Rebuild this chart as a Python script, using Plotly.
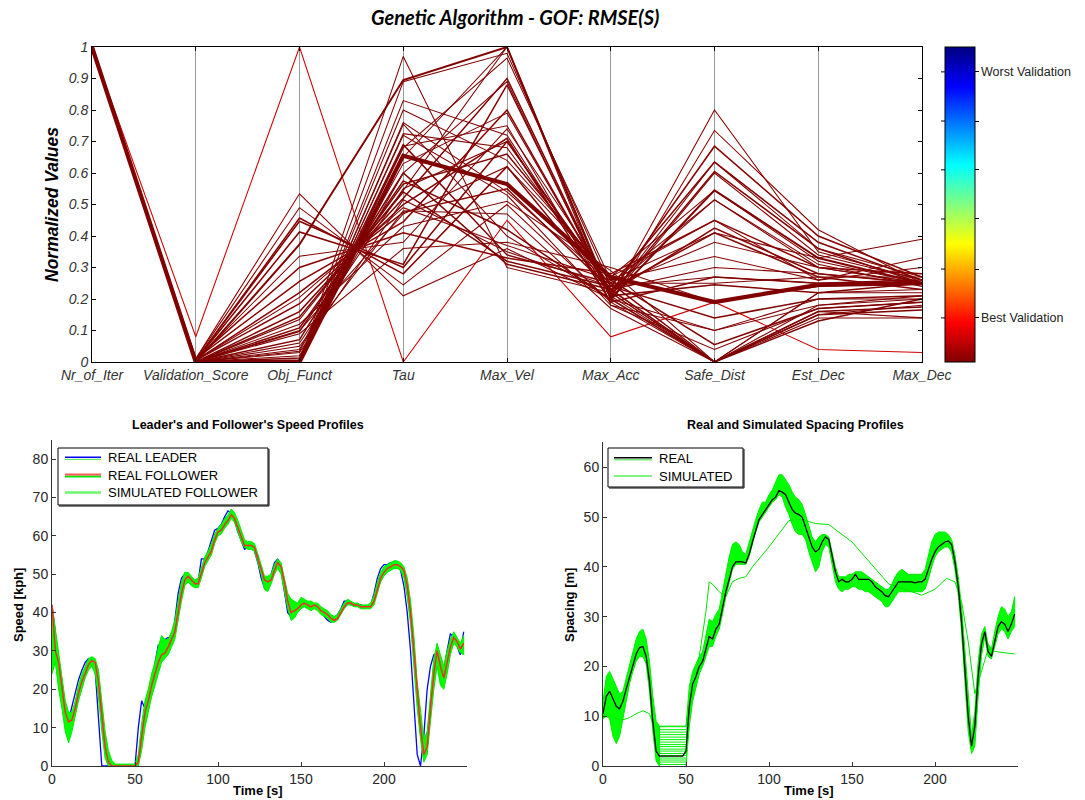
import plotly.graph_objects as go

# ---------------- DATA ----------------
param_names = ["Nr_of_Iter", "Validation_Score", "Obj_Funct", "Tau", "Max_Vel",
               "Max_Acc", "Safe_Dist", "Est_Dec", "Max_Dec"]

nr_of_iter = [1.0, 1.0, 1.0, 1.0, 1.0, 1.0, 1.0, 1.0, 1.0, 1.0,
              1.0, 1.0, 1.0, 1.0, 1.0, 1.0, 1.0, 1.0, 1.0, 1.0,
              1.0, 1.0, 1.0, 1.0, 1.0, 1.0, 1.0, 1.0, 1.0, 1.0,
              1.0, 1.0, 1.0, 1.0, 1.0, 1.0, 1.0, 1.0, 1.0, 1.0]
validation_score = [0.0, 0.08, 0.01, 0.01, 0.005, 0.005, 0.005, 0.0, 0.005, 0.01,
                    0.01, 0.005, 0.005, 0.005, 0.0, 0.0, 0.0, 0.0, 0.0, 0.0,
                    0.0, 0.0, 0.0, 0.0, 0.0, 0.0, 0.005, 0.0, 0.0, 0.0,
                    0.0, 0.0, 0.0, 0.0, 0.0, 0.0, 0.0, 0.0, 0.0, 0.0]
obj_funct = [0.0, 1.0, 0.534, 0.49, 0.457, 0.447, 0.413, 0.373, 0.336, 0.30,
             0.256, 0.22, 0.205, 0.185, 0.16, 0.143, 0.135, 0.108, 0.097, 0.071,
             0.034, 0.013, 0.007, 0.0, 0.0, 0.0, 0.0, 0.0, 0.0, 0.0,
             0.0, 0.0, 0.03, 0.05, 0.12, 0.09, 0.02, 0.06, 0.04, 0.1]
tau = [0.655, 0.0, 0.21, 0.245, 0.28, 0.3, 0.31, 0.895, 0.38, 0.41,
       0.445, 0.475, 0.49, 0.5, 0.52, 0.54, 0.545, 0.565, 0.575, 0.6,
       0.63, 0.69, 0.72, 0.97, 0.89, 0.83, 0.80, 0.76, 0.755, 0.725,
       0.685, 0.68, 0.515, 0.48, 0.43, 0.36, 0.6, 0.55, 0.65, 0.47]
max_vel = [0.565, 0.45, 0.36, 0.5, 0.62, 0.7, 0.88, 1.0, 0.74, 0.33,
           0.8, 0.55, 0.37, 0.71, 0.9, 0.32, 1.0, 0.66, 0.42, 0.31,
           0.79, 0.34, 0.53, 0.3, 0.98, 0.72, 0.64, 0.54, 0.4, 0.68,
           0.75, 0.965, 0.35, 0.47, 0.51, 0.38, 0.89, 0.7, 1.0, 0.62]
max_acc = [0.27, 0.08, 0.2, 0.19, 0.22, 0.24, 0.21, 0.2, 0.25, 0.28,
           0.22, 0.23, 0.26, 0.19, 0.21, 0.24, 0.18, 0.26, 0.2, 0.23,
           0.22, 0.25, 0.18, 0.22, 0.24, 0.21, 0.27, 0.25, 0.2, 0.23,
           0.19, 0.26, 0.24, 0.17, 0.29, 0.3, 0.2, 0.23, 0.21, 0.27]
safe_dist = [0.19, 0.19, 0.8, 0.735, 0.685, 0.635, 0.605, 0.545, 0.515, 0.45,
             0.425, 0.41, 0.335, 0.27, 0.245, 0.14, 0.1, 0.055, 0.0, 0.0,
             0.0, 0.0, 0.04, 0.0, 0.38, 0.0, 0.45, 0.25, 0.1, 0.3,
             0.0, 0.41, 0.27, 0.0, 0.0, 0.19, 0.6, 0.515, 0.635, 0.545]
est_dec = [0.245, 0.04, 0.35, 0.42, 0.4, 0.38, 0.36, 0.33, 0.31, 0.3,
           0.28, 0.27, 0.26, 0.25, 0.22, 0.2, 0.18, 0.17, 0.16, 0.15,
           0.14, 0.13, 0.17, 0.22, 0.3, 0.18, 0.26, 0.27, 0.2, 0.28,
           0.15, 0.33, 0.25, 0.22, 0.16, 0.24, 0.34, 0.3, 0.36, 0.32]
max_dec = [0.25, 0.03, 0.26, 0.25, 0.27, 0.26, 0.25, 0.25, 0.24, 0.28,
           0.25, 0.23, 0.3, 0.26, 0.25, 0.21, 0.2, 0.19, 0.175, 0.165,
           0.14, 0.2, 0.19, 0.23, 0.25, 0.21, 0.33, 0.27, 0.2, 0.25,
           0.18, 0.39, 0.25, 0.22, 0.14, 0.25, 0.26, 0.25, 0.27, 0.25]
# number of identical solutions drawn on top of each other
multiplicity = [8, 1, 1, 1, 2, 2, 2, 3, 1, 2,
                2, 2, 1, 2, 2, 2, 1, 2, 2, 2,
                1, 2, 1, 1, 1, 1, 1, 1, 1, 1,
                1, 1, 1, 1, 1, 1, 1, 1, 1, 1]

colorbar_labels = ["Best Validation", "", "", "", "", "Worst Validation"]
colorbar_tickvals = [0.14, 0.295, 0.454, 0.61, 0.765, 0.921]

speed_legend_labels = ["REAL LEADER", "REAL FOLLOWER", "SIMULATED FOLLOWER"]
spacing_legend_labels = ["REAL", "SIMULATED"]

time_s = list(range(0, 250, 2))
leader_speed = [42, 35, 22, 17, 12, 12, 15.5, 19, 22.5, 25,
                27, 28, 27.5, 25, 12, 0, 0, 0, 0, 0,
                0, 0, 0, 0, 0, 0, 10, 17, 15, 19,
                22, 27, 31.5, 31, 33, 33.5, 33, 38, 45, 49,
                50, 50, 48.5, 47.5, 48, 54, 54, 56, 59, 61.5,
                62, 63, 65, 66.5, 66, 64, 61, 58.5, 56.5, 57,
                57.5, 56, 53, 49, 46.5, 48, 50, 53, 54, 51,
                46, 40, 39, 41, 42, 43.5, 43, 42, 42, 41.5,
                41, 40, 39, 38, 37.5, 38, 39.5, 41, 43, 43,
                42, 42, 42, 42, 41.5, 41.5, 42, 45, 49, 51.5,
                52.5, 52.5, 53, 53, 52.5, 51, 47, 40, 30, 15,
                3, 0, 8, 20, 26, 29, 29.5, 25, 25, 30,
                34.5, 33.5, 31, 29, 35]
follower_speed = [42, 30, 27, 20, 14, 11.5, 12, 15, 19, 22,
                  24.5, 26.5, 27.5, 27, 22, 13, 5, 1, 0, 0,
                  0, 0, 0, 0, 0, 0, 1, 8, 14, 17,
                  21, 24, 27, 29, 29.5, 31, 33, 35, 40, 45,
                  48.5, 49.5, 48.5, 47.5, 47.5, 50, 53, 54.5, 56, 59,
                  61, 61.5, 63, 64, 65.5, 64.5, 62, 59.5, 57.5, 57.5,
                  57.5, 57, 54, 51, 48.5, 48, 48.5, 51, 53, 52,
                  48, 43, 40, 40.5, 41, 42, 42.5, 42, 41.5, 42,
                  41.5, 40.5, 40, 39.5, 38.5, 38, 38.5, 40, 41.5, 42.5,
                  42.5, 42, 42, 41.5, 41.5, 41.5, 41.5, 43, 46, 49,
                  50.5, 51.5, 52, 52.5, 52.5, 52, 51, 47, 40, 30,
                  18, 10, 3, 5, 15, 24, 30, 26, 23, 27,
                  31, 33.5, 32.5, 30.5, 32]
sim_speed_low = [24, 27, 20, 15, 9, 6, 9, 13, 17, 20,
                 23, 25, 26, 24, 18, 9, 2, 0, 0, 0,
                 0, 0, 0, 0, 0, 0, 0, 4, 10, 14,
                 18, 21, 24, 27, 28, 29, 31, 33, 38, 43,
                 47, 48, 47, 46.5, 46.5, 49, 52, 53.5, 55, 58,
                 60, 60.5, 62, 63, 64.5, 63.5, 61, 58.5, 57, 56.5,
                 56.5, 56, 53, 50, 46, 45.5, 47.5, 50, 51.5, 50,
                 46, 41, 38, 38.5, 40, 41, 41.5, 41, 40.5, 41,
                 40.5, 39.5, 39, 38.5, 37.5, 37.5, 38, 39.5, 41, 42,
                 42, 41.5, 41.5, 41, 41, 41, 41, 42, 45, 48,
                 49.5, 50.5, 51, 51.5, 51.5, 51, 49, 44, 37, 27,
                 15, 7, 1, 3, 12, 20, 26, 21, 20, 24,
                 29, 32, 31, 29.5, 29]
sim_speed_high = [42, 36, 30, 23, 17, 14, 14, 17, 21, 24,
                  26, 28, 28.5, 28, 25, 17, 9, 4, 1.5, 0.5,
                  0.5, 0.5, 0.5, 0.5, 0.5, 0.5, 3, 11, 17, 20,
                  24, 27, 31, 34, 33, 33, 35, 38, 43, 48,
                  50.5, 50.5, 49.5, 48.5, 49, 52, 54.5, 56, 58, 60.5,
                  62, 63, 64.5, 65.5, 67, 66, 64, 61.5, 59, 58.5,
                  58.5, 58, 55.5, 52.5, 49.5, 49.5, 50, 52.5, 54, 53,
                  49, 45, 43.5, 43, 42.5, 44, 43.5, 43, 43, 42.5,
                  42.5, 41.5, 41, 40.5, 39.5, 39, 39.5, 41, 42.5, 43.5,
                  43, 42.5, 42.5, 42, 42, 42, 42.5, 44.5, 48, 50.5,
                  52, 52.5, 53, 53.5, 53.5, 53, 52, 49, 43, 34,
                  22, 14, 7, 9, 19, 28, 32, 29, 26, 30,
                  33, 35, 33.5, 32, 34]

real_spacing = [10.5, 14, 15, 13.5, 12, 11.5, 13, 15.5, 18, 20.5,
                22.5, 23.8, 24, 22, 17, 9, 3, 2, 2, 2,
                2, 2, 2, 2, 2, 3, 12, 16.5, 18, 20,
                21, 23.5, 26, 25.5, 27.5, 28.5, 32, 35, 37.5, 40,
                41, 41, 41, 40.8, 42.5, 45, 47.5, 49.5, 50.5, 51.5,
                52.5, 53.5, 54, 55.3, 55, 54.5, 53, 51.5, 50.8, 50.5,
                50, 48, 46, 44, 43, 43.5, 45, 46, 45.5, 42,
                39, 37, 37.5, 37, 37, 37.5, 38.5, 37.5, 37.5, 37.5,
                37.5, 37, 36, 35.5, 35, 34.2, 34, 35, 36, 37,
                37, 37, 37, 37, 36.8, 37, 37, 37.5, 39.5, 41.5,
                43, 44, 44.5, 45, 45.2, 44.5, 41, 36, 29, 20,
                10, 4, 8, 18, 24.5, 27, 23, 22, 25, 28,
                29, 28.5, 27, 28.5, 30.5]
sim_spacing_low = [9.5, 10, 9.5, 6, 4.5, 6, 9, 13, 16.5, 19,
                   21, 22, 22, 20.5, 15, 7, 1, 0, None, None,
                   None, None, None, None, None, 0, 8, 13, 16, 18.5,
                   20, 22, 24, 24, 26, 27.5, 30.5, 34, 37, 39.5,
                   40.5, 40.5, 40.5, 40.5, 42, 44.5, 47, 49, 50, 51,
                   52, 53, 53.5, 54.5, 54, 52, 50.5, 48.5, 47, 46.5,
                   46.5, 45.5, 43, 41, 39, 40, 43, 44.5, 44, 40.5,
                   37, 35.5, 35, 35.5, 35.5, 36, 36, 35.5, 35.5, 35,
                   35, 34.5, 34, 33.5, 33, 32, 32, 33, 34, 35,
                   35, 35, 35, 35, 35, 35, 35, 35.5, 37.5, 40,
                   42, 43, 43.5, 44, 44, 43, 39.5, 34.5, 27, 17,
                   7, 2.5, 4, 14, 22, 26, 22, 21.5, 24, 26.5,
                   27.5, 27, 25.5, 27, 28]
sim_spacing_high = [13, 18, 19, 17.5, 16, 14.5, 15, 17.5, 20.5, 23,
                    25.5, 27, 27.5, 25.5, 21, 14, 9, 8, None, None,
                    None, None, None, None, None, 8, 16, 19, 20.5, 22,
                    23, 26, 29.5, 29, 30.5, 31.5, 35, 38.5, 42, 44.5,
                    45, 44.5, 43, 42.5, 45, 47.5, 49.5, 51.5, 53, 53,
                    54.5, 55.5, 57, 58.5, 58.5, 57.5, 56.5, 55, 54, 53.5,
                    52.5, 50.5, 48, 46, 45, 46, 46.5, 46.5, 46, 43,
                    40, 38, 38, 38, 38.5, 38.5, 39, 39, 39, 38.5,
                    38, 37.5, 37, 36.5, 36, 35.5, 35.5, 36.5, 38, 39,
                    39.5, 39, 38.5, 38.5, 38.5, 38.5, 38.5, 39.5, 42, 45,
                    46.5, 47, 47, 47, 46.5, 45.5, 42.5, 38, 32, 23,
                    13, 6, 11, 21, 26.5, 28, 24.5, 23.5, 27, 30,
                    32, 31.5, 30, 31, 34]
# standstill spacing of the individual simulated runs during the stop
stop_window_s = [34, 50]
sim_standstill = [0.3, 0.8, 1.2, 1.6, 2.1, 2.5, 3.0, 3.4, 3.9, 4.3,
                  4.8, 5.3, 5.8, 6.3, 6.8, 7.3, 7.9]
# one strongly deviating simulated run
outlier_t = [0, 4, 8, 12, 16, 20, 24, 28, 30, 32, 34, 50, 54, 58, 62, 64, 66, 70, 74, 78,
             82, 86, 90, 100, 112, 120, 128, 136, 150, 172, 192, 200, 207, 212, 216, 220,
             224, 228, 232, 236, 240, 248]
outlier_spacing = [10.5, 10, 9.5, 9.3, 9.7, 10.5, 11.1, 10.5, 8.5, 8, 8, 8, 14, 22, 31, 37,
                   36.5, 35, 34, 37, 37.7, 38, 40, 44, 49.3, 49.5, 48.7, 48.5, 45, 36.6,
                   34.3, 35.5, 37.7, 37, 33, 25, 14.5, 19, 23.5, 23, 22.8, 22.5]

# ---------------- LAYOUT HELPERS ----------------
W, H = 1085, 800


def fx(px):
    return px / W


def fy(py):
    return 1 - py / H


JET_R = [(0.0, (128, 0, 0)), (0.125, (255, 0, 0)), (0.375, (255, 255, 0)),
         (0.625, (0, 255, 255)), (0.875, (0, 0, 255)), (1.0, (0, 0, 128))]


def jet_color(v):
    v = max(0.0, min(1.0, v))
    for (p0, c0), (p1, c1) in zip(JET_R[:-1], JET_R[1:]):
        if p0 <= v <= p1:
            f = (v - p0) / (p1 - p0)
            c = [round(a + (b - a) * f) for a, b in zip(c0, c1)]
            return "rgb(%d,%d,%d)" % tuple(c)
    return "rgb(0,0,128)"


FONT = "Liberation Sans, Arial, sans-serif"
fig = go.Figure()

# ---------------- TOP: parallel coordinates ----------------
columns = [nr_of_iter, validation_score, obj_funct, tau, max_vel, max_acc,
           safe_dist, est_dec, max_dec]
axis_pos = list(range(1, len(param_names) + 1))
n_sol = len(validation_score)
for i in sorted(range(n_sol), key=lambda k: multiplicity[k]):
    fig.add_trace(go.Scatter(
        x=axis_pos, y=[col[i] for col in columns], mode="lines",
        line=dict(color=jet_color(validation_score[i]), width=0.6 + 0.45 * multiplicity[i]),
        xaxis="x", yaxis="y", showlegend=False, hoverinfo="skip"))

CB_TOP, CB_BOT, CB_L, CB_R = 47, 362, 945, 975
fig.add_trace(go.Scatter(
    x=[1, 1], y=[-5, -5], mode="markers", xaxis="x", yaxis="y", showlegend=False,
    hoverinfo="skip",
    marker=dict(size=1, color=[0, 1], cmin=0, cmax=1,
                colorscale=[[p, "rgb(%d,%d,%d)" % c] for p, c in JET_R],
                showscale=True,
                colorbar=dict(x=fx(CB_L), xanchor="left", xpad=0, ypad=0,
                              y=fy(CB_TOP), yanchor="top", len=(CB_BOT - CB_TOP) / H,
                              lenmode="fraction",
                              thickness=CB_R - CB_L, outlinecolor="black", outlinewidth=1,
                              tickvals=colorbar_tickvals,
                              ticktext=["" for _ in colorbar_labels],
                              ticks="outside", ticklen=4, tickcolor="black",
                              showticklabels=False))))

# ---------------- BOTTOM LEFT: speed ----------------
fig.add_trace(go.Scatter(x=time_s, y=leader_speed, mode="lines", name=speed_legend_labels[0],
                         line=dict(color="rgb(0,0,255)", width=1.3),
                         xaxis="x2", yaxis="y2", showlegend=False))
fig.add_trace(go.Scatter(x=time_s + time_s[::-1], y=sim_speed_high + sim_speed_low[::-1],
                         mode="lines", fill="toself", fillcolor="rgb(0,255,0)",
                         name=speed_legend_labels[2],
                         line=dict(color="rgb(0,235,0)", width=1),
                         xaxis="x2", yaxis="y2", showlegend=False, hoverinfo="skip"))
fig.add_trace(go.Scatter(x=time_s, y=follower_speed, mode="lines", name=speed_legend_labels[1],
                         line=dict(color="rgb(255,40,40)", width=1.5),
                         xaxis="x2", yaxis="y2", showlegend=False))


# ---------------- BOTTOM RIGHT: spacing ----------------
def band_polygon(t, lo, hi):
    xs, ys, seg = [], [], []
    for ti, l, h in list(zip(t, lo, hi)) + [(None, None, None)]:
        if l is None or h is None:
            if seg:
                xs += [s[0] for s in seg] + [s[0] for s in seg[::-1]] + [None]
                ys += [s[2] for s in seg] + [s[1] for s in seg[::-1]] + [None]
            seg = []
        else:
            seg.append((ti, l, h))
    return xs, ys


bx, by = band_polygon(time_s, sim_spacing_low, sim_spacing_high)
fig.add_trace(go.Scatter(x=bx, y=by, mode="lines", fill="toself", fillcolor="rgb(0,255,0)",
                         line=dict(color="rgb(0,235,0)", width=1),
                         xaxis="x3", yaxis="y3", showlegend=False, hoverinfo="skip"))
sx, sy = [], []
for v in sim_standstill:
    sx += [stop_window_s[0], stop_window_s[1], None]
    sy += [v, v, None]
fig.add_trace(go.Scatter(x=sx, y=sy, mode="lines", line=dict(color="rgb(0,240,0)", width=1),
                         xaxis="x3", yaxis="y3", showlegend=False, hoverinfo="skip"))
fig.add_trace(go.Scatter(x=outlier_t, y=outlier_spacing, mode="lines",
                         name=spacing_legend_labels[1],
                         line=dict(color="rgb(0,230,0)", width=1),
                         xaxis="x3", yaxis="y3", showlegend=False))
fig.add_trace(go.Scatter(x=time_s, y=real_spacing, mode="lines", name=spacing_legend_labels[0],
                         line=dict(color="black", width=1.3),
                         xaxis="x3", yaxis="y3", showlegend=False))

# ---------------- AXES ----------------
tick_font = dict(family=FONT, size=14, color="#262626")
top_tick_font = dict(family=FONT, size=14, color="#333", style="italic")

bottom_axis = dict(showline=True, linecolor="#333", linewidth=1, mirror=False,
                   ticks="inside", ticklen=4, tickcolor="#333", showgrid=False,
                   zeroline=False, tickfont=tick_font, automargin=False)

fig.update_layout(
    width=W, height=H, margin=dict(l=0, r=0, t=0, b=0, autoexpand=False),
    paper_bgcolor="white", plot_bgcolor="white", showlegend=False,
    xaxis=dict(domain=[fx(92), fx(922)], range=[1, 9], tickvals=axis_pos, ticktext=param_names,
               showline=True, mirror="ticks", linecolor="black", linewidth=1,
               ticks="inside", ticklen=4, tickcolor="black",
               showgrid=True, gridcolor="#9a9a9a", gridwidth=1, zeroline=False,
               tickfont=top_tick_font, anchor="y", automargin=False),
    yaxis=dict(domain=[fy(362), fy(47)], range=[0, 1], dtick=0.1, tick0=0,
               showline=True, mirror="ticks", linecolor="black", linewidth=1,
               ticks="inside", ticklen=4, tickcolor="black",
               showgrid=False, zeroline=False, tickfont=top_tick_font, anchor="x",
               automargin=False),
    xaxis2=dict(bottom_axis, domain=[fx(52), fx(467)], range=[0, 250],
                tickvals=[0, 50, 100, 150, 200], anchor="y2"),
    yaxis2=dict(bottom_axis, domain=[fy(766), fy(440)], range=[0, 85], dtick=10, anchor="x2"),
    xaxis3=dict(bottom_axis, domain=[fx(603), fx(1018)], range=[0, 250],
                tickvals=[0, 50, 100, 150, 200], anchor="y3"),
    yaxis3=dict(bottom_axis, domain=[fy(766), fy(442.4)], range=[0, 65], dtick=10, anchor="x3"),
)

ann = [
    dict(text="<b><i>Genetic Algorithm - GOF: RMSE(S)</i></b>", x=fx(515), y=fy(17),
         font=dict(family="Lato, Open Sans, sans-serif", size=20, color="black")),
    dict(text="<b><i>Normalized Values</i></b>", x=fx(52), y=fy(205), textangle=-90,
         font=dict(family=FONT, size=17.5, color="black")),
    dict(text="<b>Leader's and Follower's Speed Profiles</b>", x=fx(248), y=fy(425),
         font=dict(family=FONT, size=12.5, color="black")),
    dict(text="<b>Real and Simulated Spacing Profiles</b>", x=fx(795), y=fy(425),
         font=dict(family=FONT, size=12.5, color="black")),
    dict(text="<b>Time [s]</b>", x=fx(258), y=fy(790),
         font=dict(family=FONT, size=13, color="black")),
    dict(text="<b>Time [s]</b>", x=fx(809), y=fy(790),
         font=dict(family=FONT, size=13, color="black")),
    dict(text="<b>Speed [kph]</b>", x=fx(18), y=fy(605), textangle=-90,
         font=dict(family=FONT, size=13, color="black")),
    dict(text="<b>Spacing [m]</b>", x=fx(569), y=fy(605), textangle=-90,
         font=dict(family=FONT, size=13, color="black")),
]
for a in ann:
    a.update(xanchor="center")
# colorbar labels, placed at the colorbar tick values
for val, lab in zip(colorbar_tickvals, colorbar_labels):
    if lab:
        ann.append(dict(text=lab, x=fx(CB_R + 4), xanchor="left",
                        y=fy(CB_BOT - val * (CB_BOT - CB_TOP)),
                        font=dict(family=FONT, size=12.5, color="#222")))

shapes = []
# tick marks on the left edge of the colorbar (MATLAB draws both sides)
for val in colorbar_tickvals:
    yy = fy(CB_BOT - val * (CB_BOT - CB_TOP))
    shapes.append(dict(type="line", xref="paper", yref="paper", x0=fx(CB_L - 4), x1=fx(CB_L),
                       y0=yy, y1=yy, line=dict(color="black", width=1)))


# MATLAB-style legend boxes (drawn so their compact row spacing matches)
def add_legend(box, labels, samples, row0, row_step, text_x, sample_x):
    x0, y0, x1, y1 = box
    shapes.append(dict(type="rect", xref="paper", yref="paper",
                       x0=fx(x0), x1=fx(x1), y0=fy(y1), y1=fy(y0),
                       line=dict(color="black", width=1), fillcolor="white", layer="above"))
    shapes.append(dict(type="line", xref="paper", yref="paper", x0=fx(x1 + 1), x1=fx(x1 + 1),
                       y0=fy(y1 + 1), y1=fy(y0 + 1), line=dict(color="black", width=1),
                       layer="above"))
    shapes.append(dict(type="line", xref="paper", yref="paper", x0=fx(x0 + 1), x1=fx(x1 + 1),
                       y0=fy(y1 + 1), y1=fy(y1 + 1), line=dict(color="black", width=1),
                       layer="above"))
    for k, (lab, segs) in enumerate(zip(labels, samples)):
        yy = row0 + k * row_step
        for color, width, dy in segs:
            shapes.append(dict(type="line", xref="paper", yref="paper",
                               x0=fx(sample_x[0]), x1=fx(sample_x[1]),
                               y0=fy(yy + dy), y1=fy(yy + dy),
                               line=dict(color=color, width=width), layer="above"))
        ann.append(dict(text=lab, x=fx(text_x), xanchor="left", y=fy(yy),
                        font=dict(family=FONT, size=13, color="black")))


add_legend((58, 448, 268, 505), speed_legend_labels,
           [[("rgb(60,230,60)", 1, 1.8), ("rgb(0,0,255)", 1.5, -0.3)],
            [("rgb(0,230,0)", 2, 1.5), ("rgb(255,90,90)", 2, -0.5)],
            [("rgb(110,245,110)", 2.5, 0)]],
           row0=457.5, row_step=17.5, text_x=106, sample_x=(65, 101))
add_legend((608, 448, 743, 487), spacing_legend_labels,
           [[("rgb(60,220,60)", 1, 1.8), ("black", 1.5, -0.3)],
            [("rgb(0,230,0)", 1, 0)]],
           row0=458, row_step=18, text_x=657, sample_x=(614, 652))

for a in ann:
    a.update(xref="paper", yref="paper", showarrow=False, yanchor="middle")
fig.update_layout(annotations=ann, shapes=shapes)

fig.write_html("out.html", config={"displayModeBar": False},
               post_script="document.body.style.margin='0px';")
